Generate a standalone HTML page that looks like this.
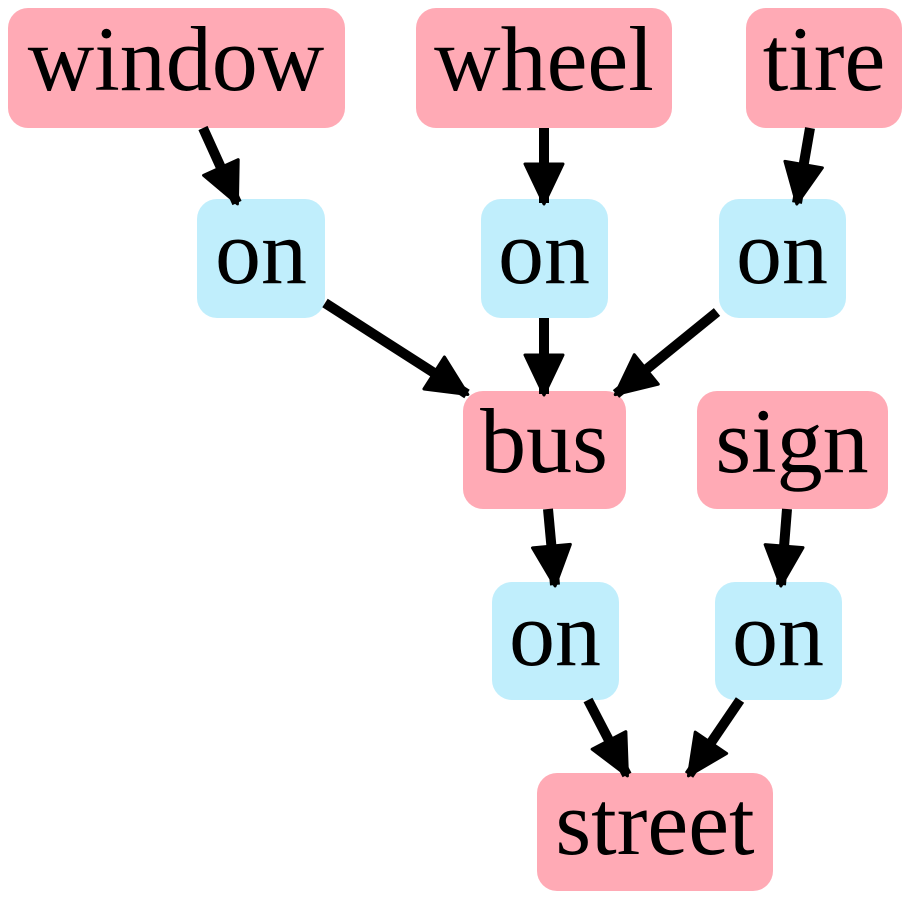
<!DOCTYPE html>
<html><head><meta charset="utf-8"><style>html,body{margin:0;padding:0;background:#fff}svg{display:block}text{font-family:"Liberation Serif",serif}</style></head>
<body>
<svg width="911" height="900" viewBox="0 0 911 900" xmlns="http://www.w3.org/2000/svg">
<defs>
<marker id="a" markerUnits="userSpaceOnUse" markerWidth="46" markerHeight="46" viewBox="0 0 46 46" refX="42" refY="23" orient="auto">
<path d="M3,4 L43,23 L3,42 Z" fill="#000" stroke="#000" stroke-width="3" stroke-linejoin="round"/>
</marker>
</defs>
<g fill="#FFAAB5">
<rect x="8" y="8" width="337" height="120" rx="20"/>
<rect x="416" y="8" width="256" height="120" rx="20"/>
<rect x="746" y="8" width="156" height="120" rx="20"/>
<rect x="463" y="391" width="163" height="118" rx="20"/>
<rect x="697" y="391" width="191" height="118" rx="20"/>
<rect x="537" y="773" width="236" height="118" rx="20"/>
</g>
<g fill="#C0EEFC">
<rect x="197" y="199" width="128" height="119" rx="20"/>
<rect x="481" y="199" width="127" height="119" rx="20"/>
<rect x="719" y="199" width="127" height="119" rx="20"/>
<rect x="492" y="582" width="127" height="118" rx="20"/>
<rect x="715" y="582" width="127" height="118" rx="20"/>
</g>
<g stroke="#000" stroke-width="10" marker-end="url(#a)" fill="none">
<line x1="203" y1="128" x2="237" y2="203"/>
<line x1="544" y1="128" x2="544" y2="203"/>
<line x1="810" y1="128" x2="797" y2="203"/>
<line x1="325" y1="303" x2="467" y2="394"/>
<line x1="544" y1="318" x2="544" y2="394"/>
<line x1="717" y1="312" x2="616" y2="394"/>
<line x1="548" y1="509" x2="555" y2="585"/>
<line x1="787" y1="509" x2="781" y2="585"/>
<line x1="588" y1="700" x2="627" y2="775"/>
<line x1="740" y1="700" x2="689" y2="775"/>
</g>
<g font-size="92" text-anchor="middle" fill="#000">
<text x="176" y="90">window</text>
<text x="544" y="90">wheel</text>
<text x="824" y="90">tire</text>
<text x="261" y="283">on</text>
<text x="544" y="283">on</text>
<text x="782" y="283">on</text>
<text x="544" y="472">bus</text>
<text x="792" y="472">sign</text>
<text x="555" y="665">on</text>
<text x="778" y="665">on</text>
<text x="655" y="854">street</text>
</g>
</svg>
</body></html>
